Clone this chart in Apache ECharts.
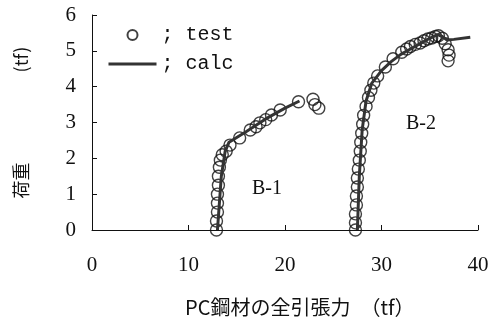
<!DOCTYPE html>
<html>
<head>
<meta charset="utf-8">
<script src="https://cdn.jsdelivr.net/npm/echarts@6/dist/echarts.min.js"></script>
<style>
  html, body { margin: 0; padding: 0; background: #fff; }
  #chart { width: 496px; height: 322px; }
</style>
</head>
<body>
<div id="chart"></div>
<script>
// B-1 試験値
const b1TestX = [12.9, 12.9, 13.0, 13.0, 13.0, 13.1, 13.1, 13.2, 13.3, 13.5, 13.9, 14.3, 15.3, 16.4, 17.0, 17.4, 18.0, 18.6, 19.5, 21.4, 22.9, 23.1, 23.5];
const b1TestY = [0, 0.25, 0.5, 0.75, 1.0, 1.25, 1.5, 1.75, 1.95, 2.1, 2.2, 2.37, 2.57, 2.79, 2.88, 2.99, 3.08, 3.21, 3.35, 3.58, 3.65, 3.5, 3.4];
// B-2 試験値
const b2TestX = [27.3, 27.3, 27.3, 27.4, 27.4, 27.5, 27.5, 27.6, 27.7, 27.8, 27.85, 27.95, 28.05, 28.15, 28.4, 28.65, 28.9, 29.2, 29.6, 30.4, 31.2, 32.1, 32.6, 33.0, 33.5, 34.0, 34.4, 34.8, 35.2, 35.6, 35.9, 36.3, 36.6, 36.9, 37.0, 36.9];
const b2TestY = [0, 0.2, 0.45, 0.7, 0.95, 1.2, 1.45, 1.7, 1.95, 2.2, 2.45, 2.7, 2.95, 3.2, 3.45, 3.7, 3.9, 4.1, 4.3, 4.55, 4.78, 4.96, 5.05, 5.12, 5.18, 5.22, 5.28, 5.33, 5.36, 5.4, 5.42, 5.35, 5.2, 5.03, 4.88, 4.72];
// 計算値
const b1CalcX = [13.0, 13.4, 13.8, 14.2, 16.0, 18.0, 20.0, 21.5];
const b1CalcY = [0, 1.5, 2.2, 2.45, 2.75, 3.1, 3.4, 3.6];
const b2CalcX = [27.5, 27.7, 28.0, 28.4, 29.0, 30.0, 31.0, 32.0, 33.0, 34.0, 35.0, 35.8, 36.3, 36.8, 37.5, 39.2];
const b2CalcY = [0, 1.5, 2.8, 3.6, 4.1, 4.45, 4.7, 4.9, 5.05, 5.2, 5.35, 5.45, 5.4, 5.3, 5.32, 5.38];

const xTicks = [0, 10, 20, 30, 40];
const yTicks = [0, 1, 2, 3, 4, 5, 6];

function zip(xs, ys) {
    return xs.map((x, i) => [x, ys[i]]);
}

const serif = '"Liberation Serif", "DejaVu Serif", serif';
const mono = '"Liberation Mono", "DejaVu Sans Mono", monospace';
const cjk = '"Noto Sans CJK JP", "Liberation Serif", serif';

const chart = echarts.init(document.getElementById('chart'));

const testStyle = {
    type: 'scatter',
    name: 'test',
    symbol: 'circle',
    symbolSize: 12,
    itemStyle: { color: 'rgba(255,255,255,0)', borderColor: '#111', borderWidth: 1.4 },
    z: 2
};
const calcStyle = {
    type: 'line',
    name: 'calc',
    symbol: 'none',
    itemStyle: { color: '#333' },
    lineStyle: { color: '#333', width: 3 },
    z: 3
};

chart.setOption({
    animation: false,
    backgroundColor: '#fff',
    grid: { left: 92, right: 18, top: 15, bottom: 92 },
    legend: {
        orient: 'vertical',
        left: 102,
        top: 20,
        itemWidth: 48,
        itemHeight: 10,
        itemGap: 9,
        data: [
            { name: 'test', icon: 'circle' },
            { name: 'calc', itemStyle: { opacity: 0 }, lineStyle: { width: 3, color: '#333' } }
        ],
        formatter: n => '; ' + n,
        textStyle: { fontFamily: mono, fontSize: 20, color: '#111', lineHeight: 20 }
    },
    xAxis: {
        type: 'value',
        min: xTicks[0],
        max: xTicks[xTicks.length - 1],
        interval: 10,
        splitLine: { show: false },
        axisLine: { lineStyle: { color: '#111', width: 1 } },
        axisTick: { inside: true, length: 5, lineStyle: { color: '#111' } },
        axisLabel: { fontFamily: serif, fontSize: 21, color: '#111', margin: 25 }
    },
    yAxis: {
        type: 'value',
        min: yTicks[0],
        max: yTicks[yTicks.length - 1],
        interval: 1,
        splitLine: { show: false },
        axisLine: { show: true, lineStyle: { color: '#111', width: 1 } },
        axisTick: { show: true, inside: true, length: 5, lineStyle: { color: '#111' } },
        axisLabel: { fontFamily: serif, fontSize: 21, color: '#111', margin: 16 },
        name: '荷重\u3000\u3000\u3000\u3000\u3000(tf)',
        nameLocation: 'middle',
        nameRotate: 90,
        nameGap: 62,
        nameTextStyle: { fontFamily: cjk, fontSize: 18, color: '#111' }
    },
    graphic: [
        { type: 'text', left: 185, top: 297,
          style: { text: 'PC鋼材の全引張力\u3000（tf）', font: '20px ' + cjk, fill: '#111' } },
        { type: 'text', left: 252, top: 179,
          style: { text: 'B-1', font: '20px ' + serif, fill: '#111' } },
        { type: 'text', left: 406, top: 114,
          style: { text: 'B-2', font: '20px ' + serif, fill: '#111' } }
    ],
    series: [
        Object.assign({}, testStyle, { data: zip(b1TestX, b1TestY) }),
        Object.assign({}, testStyle, { data: zip(b2TestX, b2TestY) }),
        Object.assign({}, calcStyle, { data: zip(b1CalcX, b1CalcY) }),
        Object.assign({}, calcStyle, { data: zip(b2CalcX, b2CalcY) })
    ]
});
</script>
</body>
</html>
